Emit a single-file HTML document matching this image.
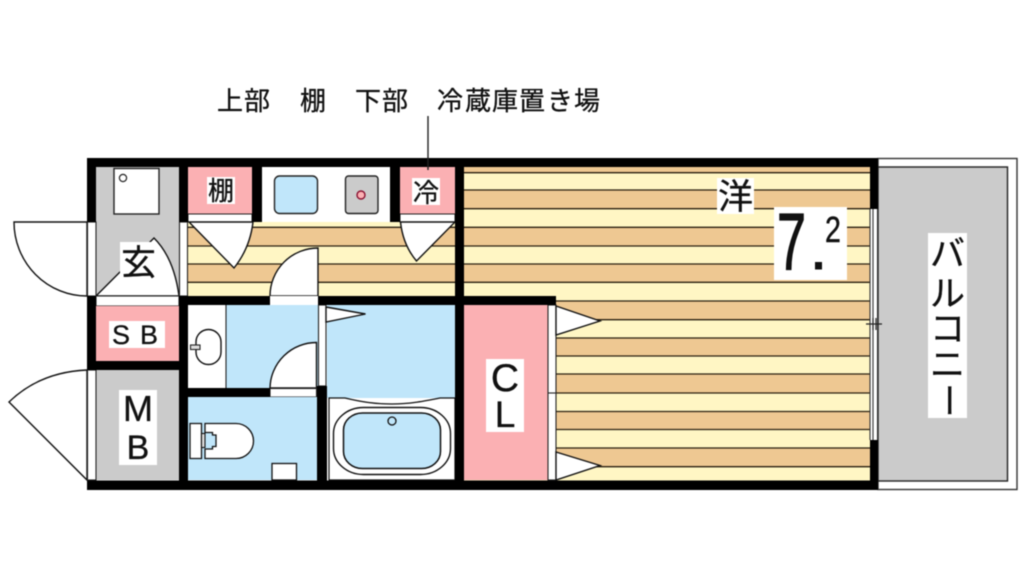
<!DOCTYPE html>
<html><head><meta charset="utf-8">
<style>
html,body{margin:0;padding:0;background:#fff;width:1024px;height:576px;overflow:hidden}
svg{display:block;filter:blur(.45px)}
text{font-family:"Liberation Sans","Noto Sans CJK JP",sans-serif;fill:#111;stroke:#111;stroke-width:.3px}
</style></head><body>
<svg width="1024" height="576" viewBox="0 0 1024 576" xmlns="http://www.w3.org/2000/svg">
<rect width="1024" height="576" fill="#fff"/>

<!-- top label -->
<g font-size="26">
<text x="217" y="110">上</text><text x="244" y="110">部</text>
<text x="300" y="110">棚</text>
<text x="355" y="110">下</text><text x="382" y="110">部</text>
<text x="437" y="110">冷</text><text x="465" y="110">蔵</text><text x="492" y="110">庫</text><text x="519" y="110">置</text><text x="547" y="110">き</text><text x="574" y="110">場</text>
</g>

<!-- balcony -->
<rect x="878" y="158.5" width="139" height="331" fill="#fff" stroke="#333" stroke-width="1.4"/>
<rect x="878" y="167" width="129.5" height="314" fill="#cbcbcb" stroke="#222" stroke-width="1.4"/>

<!-- floor room -->
<rect x="464" y="167" width="406" height="314" fill="#fff6c4"/>
<g fill="#eec892">
<rect x="464" y="167" width="406" height="5.7"/>
<rect x="464" y="190" width="406" height="18.7"/>
<rect x="464" y="227.3" width="406" height="18.7"/>
<rect x="464" y="264" width="406" height="18.3"/>
<rect x="464" y="301" width="406" height="18.7"/>
<rect x="464" y="338" width="406" height="18"/>
<rect x="464" y="374" width="406" height="19"/>
<rect x="464" y="411.5" width="406" height="18"/>
<rect x="464" y="448" width="406" height="18.7"/>
</g>
<g stroke="#2a2010" stroke-width="1.3">
<path d="M464 172.7H870M464 190H870M464 208.7H870M464 227.3H870M464 246H870M464 264H870M464 282.3H870M464 301H870M464 319.7H870M464 338H870M464 356H870M464 374H870M464 393H870M464 411.5H870M464 429.5H870M464 448H870M464 466.7H870"/>
</g>

<!-- kitchen floor -->
<rect x="188" y="222" width="267" height="74" fill="#fff6c4"/>
<g fill="#eec892">
<rect x="188" y="227.3" width="267" height="18.7"/>
<rect x="188" y="264" width="267" height="18.3"/>
</g>
<path d="M188 246H455M188 264H455M188 282.3H455M188 227.3H455" stroke="#2a2010" stroke-width="1.3"/>

<!-- entry -->
<rect x="96" y="167" width="83" height="129" fill="#cbcbcb"/>
<rect x="114" y="168.5" width="45" height="45.5" fill="#fff" stroke="#222" stroke-width="1.4"/>
<circle cx="123" cy="178" r="3.6" fill="#fff" stroke="#222" stroke-width="1.2"/>
<path d="M96 296L154 238Q174 258 179 296Z" fill="#fff" stroke="#111" stroke-width="1.4"/>
<rect x="96" y="296" width="83" height="10" fill="#fff" stroke="#222" stroke-width="1.1"/>

<!-- SB / MB -->
<rect x="96" y="306" width="83" height="55" fill="#fbb0b3"/>
<rect x="96" y="370" width="83" height="110" fill="#cbcbcb"/>

<!-- pink closets -->
<rect x="188" y="167" width="64" height="47" fill="#fbb0b3"/>
<rect x="188" y="214" width="64" height="8" fill="#fff" stroke="#222" stroke-width="1"/>
<rect x="262" y="167" width="128" height="55" fill="#fff"/>
<rect x="400" y="167" width="55" height="47" fill="#fbb0b3"/>
<rect x="400" y="214" width="55" height="8" fill="#fff" stroke="#222" stroke-width="1"/>
<rect x="274.5" y="176" width="43" height="37.5" rx="5" fill="#c0e6fa" stroke="#222" stroke-width="1.4"/>
<rect x="345.5" y="176" width="32.5" height="37.5" rx="3" fill="#cbcbcb" stroke="#222" stroke-width="1.4"/>
<circle cx="361" cy="195" r="4" fill="#fbb0b3" stroke="#8a1030" stroke-width="1.4"/>

<!-- closet doors -->
<path d="M189 222L234 268Q250 248 253 222Z" fill="#fff" stroke="#111" stroke-width="1.4"/>
<path d="M400.500 222Q403 245 416.500 261L455 222Z" fill="#fff" stroke="#111" stroke-width="1.4"/>
<!-- washroom door top -->
<path d="M270 296A48 48 0 0 1 318 248V296Z" fill="#fff" stroke="#111" stroke-width="1.4"/>
<rect x="270" y="296" width="48" height="9" fill="#fff"/>

<!-- washroom -->
<rect x="188" y="305" width="38" height="83" fill="#fff"/>
<rect x="226" y="305" width="92" height="83" fill="#c0e6fa"/>
<path d="M226 305V388" stroke="#222" stroke-width="1.1"/>
<rect x="196" y="329.500" width="25" height="35" rx="12.500" fill="#fff" stroke="#111" stroke-width="1.4"/>
<rect x="190.500" y="345" width="9.500" height="4.500" fill="#ddd" stroke="#222" stroke-width="1.1"/>
<path d="M270 388A46.500 46.500 0 0 1 316.500 342.500V388Z" fill="#fff" stroke="#111" stroke-width="1.4"/>
<rect x="270" y="388.500" width="46.500" height="8.500" fill="#fff" stroke="#222" stroke-width="1.1"/>

<!-- toilet -->
<rect x="188" y="397" width="129" height="83" fill="#c0e6fa"/>
<path d="M190 423.500H201.500V458.500H190Z" fill="#fff" stroke="#111" stroke-width="1.3"/>
<path d="M205 423.500H236A17.500 17.500 0 0 1 253.500 441A17.500 17.500 0 0 1 236 458.500H205V449H212.500V446.500H216V435H212.500V432.500H205Z" fill="#fff" stroke="#111" stroke-width="1.3"/>
<rect x="201.500" y="433.500" width="3.500" height="14" fill="#ddd" stroke="#111" stroke-width="1.1"/>
<rect x="272" y="463.500" width="24.500" height="16.500" fill="#fff" stroke="#111" stroke-width="1.3"/>

<!-- bath -->
<rect x="327" y="305" width="128" height="93" fill="#c0e6fa"/>
<path d="M329 480V398H345C362 402 375 404 392 404C410 404 425 401 440 398H455V480Z" fill="#fff" stroke="#111" stroke-width="1.2"/>
<rect x="333.500" y="407.500" width="117" height="67" rx="30" ry="26" fill="#fff" stroke="#111" stroke-width="1.4"/>
<rect x="343.500" y="413" width="97" height="55.500" rx="19" ry="17" fill="#c0e6fa" stroke="#111" stroke-width="1.5"/>
<circle cx="392" cy="421" r="4" fill="#c0e6fa" stroke="#111" stroke-width="1.3"/>
<rect x="318.500" y="305" width="7.500" height="81" fill="#fff" stroke="#222" stroke-width="1.1"/>
<path d="M326 307L365.500 314L326 322Z" fill="#fff" stroke="#111" stroke-width="1.4"/>

<!-- CL -->
<rect x="464" y="305" width="84" height="175" fill="#fbb0b3"/>
<rect x="548" y="305" width="8" height="175" fill="#fff" stroke="#222" stroke-width="1.1"/>
<path d="M548 393H556" stroke="#222" stroke-width="1.1"/>
<path d="M556 306L600 321L556 335Z" fill="#fff" stroke="#111" stroke-width="1.4"/>
<path d="M556 452L600 465.500L556 480Z" fill="#fff" stroke="#111" stroke-width="1.4"/>

<!-- exterior doors -->
<path d="M87 222H14A73 74 0 0 0 87 296Z" fill="#fff" stroke="#111" stroke-width="1.4"/>
<path d="M87 370Q40 372 9 402L87 480Z" fill="#fff" stroke="#111" stroke-width="1.4"/>
<rect x="87.500" y="222" width="8.500" height="74" fill="#fff" stroke="#222" stroke-width="1.1"/>
<rect x="87.500" y="370" width="8.500" height="110" fill="#fff" stroke="#222" stroke-width="1.1"/>
<rect x="179.500" y="222" width="8" height="74" fill="#fff" stroke="#222" stroke-width="1.1"/>
<rect x="870" y="209" width="8" height="231" fill="#fff"/>
<path d="M870 209V440M873 209V440M877.500 209V440" stroke="#333" stroke-width="1.1"/>
<path d="M866 324H882M873 318V330M876 318V330" stroke="#222" stroke-width="1.2"/>

<!-- walls -->
<g fill="#000">
<rect x="87" y="158" width="791" height="9"/>
<rect x="87" y="480.500" width="791" height="9.500"/>
<rect x="87" y="158" width="9" height="64"/>
<rect x="87" y="296" width="9" height="74"/>
<rect x="179" y="158" width="9" height="64"/>
<rect x="179" y="296" width="9" height="194"/>
<rect x="252" y="158" width="10" height="64"/>
<rect x="390" y="158" width="10" height="64"/>
<rect x="455" y="158" width="9" height="332"/>
<rect x="870" y="158" width="8" height="51"/>
<rect x="870" y="440" width="8" height="50"/>
<rect x="188" y="296" width="82" height="9"/>
<rect x="318" y="296" width="238" height="9"/>
<rect x="96" y="361" width="92" height="9"/>
<rect x="188" y="388" width="82" height="9"/>
<rect x="317" y="386" width="10" height="104"/>
</g>

<path d="M428 116V170" stroke="#222" stroke-width="1.4"/>

<!-- label boxes -->
<g fill="#fff">
<rect x="207" y="177" width="28" height="27"/>
<rect x="412" y="178" width="28" height="27"/>
<rect x="120" y="242" width="37" height="38"/>
<rect x="109" y="321" width="56" height="27"/>
<rect x="119" y="390" width="38" height="75"/>
<rect x="486" y="359" width="38" height="73"/>
<rect x="717" y="178" width="37" height="36"/>
<rect x="774" y="207" width="73" height="73"/>
<rect x="928" y="233" width="39" height="185"/>
</g>

<!-- labels -->
<text x="208" y="200" font-size="26">棚</text>
<text x="413" y="202" font-size="26">冷</text>
<text x="121" y="275" font-size="35">玄</text>
<text x="112" y="344" font-size="27">S</text>
<text x="140" y="344" font-size="27">B</text>
<text x="138" y="421" font-size="36" text-anchor="middle">M</text>
<text x="138" y="459" font-size="34" text-anchor="middle">B</text>
<text x="505" y="391" font-size="39" text-anchor="middle">C</text>
<text x="505" y="427" font-size="37" text-anchor="middle">L</text>
<text x="718" y="209" font-size="35">洋</text>
<text transform="translate(777 269.500) scale(.9 1.4)" font-size="58" style="stroke-width:.9px">7</text>
<rect x="815" y="262" width="7" height="7.500" fill="#111"/>
<text transform="translate(825 242) scale(1.1 1.4)" font-size="26">2</text>
<text x="930" y="266" font-size="35">バ</text>
<text x="930" y="306" font-size="35">ル</text>
<text x="930" y="341" font-size="35">コ</text>
<text x="930" y="377" font-size="35">ニ</text>
<text x="947" y="383" font-size="35" style="writing-mode:vertical-rl">ー</text>
</svg>
</body></html>
